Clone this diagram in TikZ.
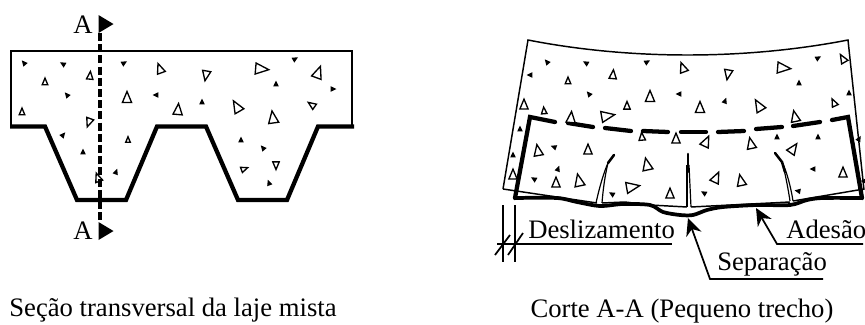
\documentclass[tikz,border=0pt]{standalone}
\usepackage{fontspec}
\setmainfont{Liberation Serif}
\tikzset{
  label/.style    = {inner sep=0pt, font=\fontsize{20}{24}\selectfont},
  slab/.style     = {draw, line width=1.1pt, line join=miter},
  deck/.style     = {draw, line width=3.2pt, line join=miter},
  crack/.style    = {draw, line width=0.9pt},
  cracktip/.style = {draw, line width=1.9pt, line cap=round},
  aggregate/.style= {draw, line width=1pt, line join=miter, fill=white},
  grain/.style    = {fill=black},
  cut/.style      = {draw, line width=3pt, dash pattern=on 6pt off 2.4pt},
  leader/.style   = {draw, line width=1.3pt},
  leadertip/.style= {-{Stealth[length=13pt,width=12pt]}}
}
\usetikzlibrary{arrows.meta}
\begin{document}
\begin{tikzpicture}[x=0.75pt,y=-0.75pt]
  \useasboundingbox (0,0) rectangle (865,325);

  % cross section
  \path[slab] (11,126) -- (11,51) -- (352,51) -- (352,126);
  \path[deck] (10,126.5) -- (45,126.5) -- (77,200) -- (126,200) -- (157,126.5)
    -- (206,126.5) -- (238,200) -- (287,200) -- (318,126.5) -- (354,126.5);

  % long section
  \path[slab] (503,189) -- (528,40) .. controls (630,60) and (745,60) .. (848,40) -- (864,190);
  \path[slab] (503,189) -- (597,203);
  \path[slab] (602,203) -- (625,202) -- (650,205) -- (687,207);
  \path[slab] (691,207) -- (790,202);
  \path[slab] (793,201) -- (864,189);
  \path[deck, line cap=round] (515,198) -- (530,117) -- (555,122);
  \path[deck, line cap=round] (568,123) -- (593,127);
  \path[deck, line cap=round] (605,128) -- (631,131);
  \path[deck, line cap=round] (643,131) -- (668,132);
  \path[deck, line cap=round] (681,132) -- (706,132);
  \path[deck, line cap=round] (718,132) -- (744,131);
  \path[deck, line cap=round] (756,129) -- (782,127);
  \path[deck, line cap=round] (793,126) -- (820,122);
  \path[deck, line cap=round] (832,120) -- (848,117) -- (862,198);
  \path[deck, line join=round, line width=2.8pt] plot[smooth, tension=0.5] coordinates {(515,198) (557,198)
    (577,202) (600,206) (623,204) (650,205) (663,212) (680,215) (693,215) (707,210)
    (723,207) (757,205) (790,205) (807,200) (823,198) (862,198)};

  % cracks
  \path[crack] (596,203) .. controls (600,185) and (604,172) .. (608,163);
  \path[crack] (602,203) .. controls (603,190) and (605,175) .. (608,163);
  \path[cracktip] (608,163) -- (614,155);
  \path[crack] (687,207) -- (687,165);
  \path[crack] (691,207) -- (689,165);
  \path[cracktip] (688,172) -- (688,154);
  \path[crack] (790,201) .. controls (788,188) and (785,172) .. (782,162);
  \path[crack] (793,201) .. controls (791,188) and (787,172) .. (782,162);
  \path[cracktip] (785,172) -- (782,162) -- (775,153);

  % coarse aggregate
  \foreach \x/\y/\s/\r in {45/82/6/0, 90/76/7/-5, 22/112/6/0, 160/69/9/20, 206/75/9/170,
      261/69/12/-95, 318/73/11/-20, 127/98/10/0, 178/110/10/-5, 237/107/11/30, 312/105/7/55,
      273/118/11/8, 89/122/8/160, 128/140/5/0, 244/169/6/-70, 276/165/7/180, 98/178/8/20,
      568/81/6/0, 613/75/8/-5, 683/68/9/20, 728/74/9/170, 783/68/12/-95, 843/59/8/30,
      524/105/9/0, 544/111/6/5, 571/118/10/-5, 627/106/7/0, 650/97/10/0, 700/108/10/0,
      607/116/12/-80, 759/106/11/30, 834/103/7/25, 795/117/10/12, 642/137/7/5, 676/139/9/0,
      706/142/10/-25, 751/144/10/12, 793/149/10/-35, 538/151/10/10, 588/150/9/0,
      513/175/9/0, 556/183/9/0, 579/181/11/12, 632/187/12/-80, 647/165/11/12, 670/194/9/0,
      716/178/10/-25, 741/181/10/12, 843/173/9/0}
    \path[aggregate, shift={(\x,\y)}, rotate=\r]
      (0,-0.65*\s) -- (0.46*\s,0.45*\s) -- (-0.46*\s,0.45*\s) -- cycle;

  % fine aggregate
  \foreach \x/\y/\r in {24/63/40, 63/64/60, 124/63/-60, 295/59/-60, 276/84/0, 333/89/-90,
      67/95/40, 156/95/90, 202/102/0, 63/135/-40, 83/152/0, 116/172/-20, 241/140/0,
      263/148/40, 269/183/20, 547/62/40, 586/63/60, 647/62/-60, 818/58/-60, 530/75/90,
      589/94/40, 679/94/90, 725/101/-20, 799/83/0, 849/93/0, 520/129/0, 554/147/70,
      513/155/0, 777/137/0, 818/137/0, 859/139/-30, 534/179/60, 558/169/-20, 612/194/60,
      704/193/60, 798/191/80, 813/169/90, 864/181/90}
    \path[grain, shift={(\x,\y)}, rotate=\r]
      (0,-3.5) -- (2.8,2.4) -- (-2.8,2.4) -- cycle;

  % cutting plane
  \coordinate (cuttop) at (99.5,33);
  \coordinate (cutbot) at (99.5,222);
  \path[cut] (cuttop) -- (cutbot);
  \fill (cuttop) ++(-1,-18) -- ++(15,9) -- ++(-15,9) -- cycle;
  \fill (cutbot) ++(-1,0) -- ++(15,9) -- ++(-15,9) -- cycle;
  \node[label] (atop) at (83,25) {A};
  \node[label] (abot) at (83,231) {A};

  % labels
  \node[label, anchor=base west] (deslizamento) at (528,238) {Deslizamento};
  \node[label, anchor=base west] (adesao)       at (786,238) {Adesão};
  \node[label, anchor=base west] (separacao)    at (717,270) {Separação};
  \node[label] (titleleft)  at (173,310) {Seção transversal da laje mista};
  \node[label] (titleright) at (682,311) {Corte A-A (Pequeno trecho)};

  % slip dimension
  \coordinate (slipa) at (503,205);
  \coordinate (slipb) at (515,205);
  \coordinate (slipc) at (503,262);
  \coordinate (slipd) at (515,262);
  \coordinate (slipe) at (497,244);
  \coordinate (slipf) at (672,244);
  \path[leader] (slipa) -- (slipc);
  \path[leader] (slipb) -- (slipd);
  \path[leader] (slipe) -- (slipf);
  \path[leader] (495,255) -- (510,235);
  \path[leader] (508,255) -- (523,233);

  % leaders
  \coordinate (adesaotip)     at (756,208);
  \coordinate (adesaoknee)    at (777,244);
  \coordinate (adesaoend)     at (863,244);
  \coordinate (separacaotip)  at (688,218);
  \coordinate (separacaoknee) at (710,279);
  \coordinate (separacaoend)  at (823,279);
  \path[leader, leadertip] (adesaoend) -- (adesaoknee) -- (adesaotip);
  \path[leader, leadertip] (separacaoend) -- (separacaoknee) -- (separacaotip);
\end{tikzpicture}
\end{document}
